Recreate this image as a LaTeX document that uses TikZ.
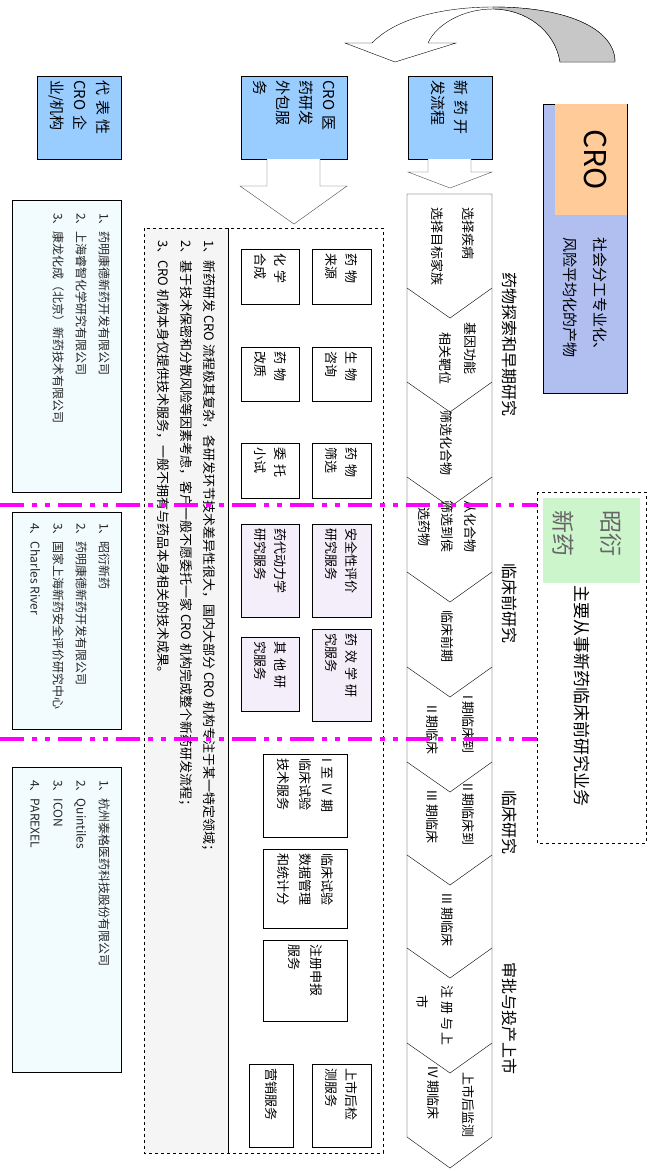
\documentclass[tikz,border=0pt]{standalone}
\usepackage{fontspec}
\setmainfont{Noto Sans CJK SC}
\usepackage{xcolor}
\usepackage{tikz}
\usetikzlibrary{calc,positioning}

\begin{document}
\begin{tikzpicture}[
    x=1pt,y=-1pt,
    line cap=butt,
    %styles
    vtext/.style={rotate=-90,anchor=west,inner sep=0pt,font=\fontsize{13}{15}\selectfont},
    headbox/.style={draw,rotate=-90,fill=headblue,align=left,inner sep=4pt,font=\fontsize{15}{23}\selectfont},
    servbox/.style={draw,rotate=-90,fill=white,align=left,inner sep=4pt,font=\fontsize{13}{20}\selectfont},
    listtext/.style={rotate=-90,anchor=north west,inner sep=0pt,align=left,text=black!85,font=\fontsize{12}{23}\selectfont},
    stage/.style={rotate=-90,anchor=west,inner sep=0pt,font=\fontsize{16}{18}\selectfont},
    blockarrow/.style={draw=black!70,fill=white,line join=miter},
    divide line/.style={fuchsia,line width=4pt,dash pattern=on 24pt off 8pt on 5pt off 8pt on 5pt off 8pt},
  ]
  %colors
  \definecolor{headblue}{RGB}{153,204,255}
  \definecolor{crob}{RGB}{176,190,240}
  \definecolor{croorange}{RGB}{255,204,153}
  \definecolor{lavender}{RGB}{244,238,250}
  \definecolor{listfill}{RGB}{242,251,253}
  \definecolor{zygreen}{RGB}{204,245,204}
  \definecolor{fuchsia}{RGB}{255,0,255}
  \useasboundingbox (0,0) rectangle (658,1171);

  % curved arrow
  \filldraw[fill=white,draw=black]
  (615,62) -- (560,62) .. controls (555,30) and (525,9) .. (493,9)
  .. controls (462,9) and (436,25) .. (428,43) -- (456,43) -- (395,62) -- (345,43) -- (372,43)
  .. controls (400,14) and (455,7) .. (493,7) .. controls (570,7) and (615,30) .. (615,62) -- cycle;
  \filldraw[fill=black!22,draw=black]
  (493,7) .. controls (570,7) and (615,30) .. (615,62) -- (560,62)
  .. controls (555,30) and (525,9) .. (493,9) -- cycle;

  % head boxes
  \node[headbox,text width=75,minimum height=84] (flow) at (450,117.5) {新\ 药\ 开\\发流程};
  \node[headbox,text width=75,minimum height=106] (outsrc) at (294,117.5) {CRO 医\\药研发\\外包服\\务};
  \node[headbox,text width=75,minimum height=84] (repr) at (79,117.5) {代\ 表\ 性\\CRO\ 企\\业/机构};

  \draw[blockarrow] (428,159) -- (428,172) -- (408,172) -- (450,188) -- (492,172) -- (471,172) -- (471,159);
  \draw[blockarrow] (267,159) -- (267,186) -- (240,186) -- (294,224) -- (347,186) -- (320,186) -- (320,159);

  % process column
  \draw[black] (407,194) -- (492,194) -- (492,1137) -- (450,1168) -- (407,1137) -- cycle;
  \foreach \y in {288,382,477,572,667,762,855,948,1043}
  \draw[black] (407,\y) -- (450,\y+30) -- (492,\y);

  \node[vtext] (s1a) at (468,207) {选择疾病};
  \node[vtext] (s1b) at (437,207) {选择目标家族};
  \node[vtext] (s2a) at (470,322) {基因功能};
  \node[vtext] (s2b) at (445,332) {相关靶位};
  \node[vtext] (s3a) at (446,410) {筛选化合物};
  \node[vtext] (s4a) at (470,500) {从化合物};
  \node[vtext] (s4b) at (447,500) {筛选到侯};
  \node[vtext] (s4c) at (424,507) {选药物};
  \node[vtext] (s5a) at (447,610) {临床前期};
  \node[vtext] (s6a) at (468,695) {I\ 期临床到};
  \node[vtext] (s6b) at (432,705) {II 期临床};
  \node[vtext] (s7a) at (468,783) {II\ 期临床到};
  \node[vtext] (s7b) at (432,790) {III 期临床};
  \node[vtext] (s8a) at (447,893) {III 期临床};
  \node[vtext] (s9a) at (447,985) {注\ 册\ 与\ 上};
  \node[vtext] (s9b) at (423,995) {市};
  \node[vtext] (s10a) at (468,1072) {上市后监测};
  \node[vtext] (s10b) at (433,1066) {IV 期临床};

  % stages
  \node[stage] (st1) at (510,272) {药物探索和早期研究};
  \node[stage] (st2) at (510,563) {临床前研究};
  \node[stage] (st3) at (510,790) {临床研究};
  \node[stage] (st4) at (510,962) {审批与投产上市};

  % CRO box
  \filldraw[fill=crob,draw=black] (543,104) rectangle (627,393);
  \fill[croorange] (555,104) rectangle (627,215);
  \node[rotate=-90,font=\fontsize{30}{32}\selectfont] (cro) at (595,160) {CRO};
  \node[rotate=-90,anchor=north west,inner sep=0pt,align=left,font=\fontsize{15}{30}\selectfont]
  (crotxt) at (607,237) {社会分工专业化、\\风险平均化的产物};

  % zhaoyan box
  \draw[dashed] (537,492) rectangle (646,843);
  \fill[zygreen] (543,498) rectangle (640,583);
  \node[rotate=-90,anchor=north west,inner sep=0pt,align=left,text=black!60,font=\fontsize{23}{48}\selectfont]
  (zy) at (622,510) {昭衍\\新药};
  \node[stage,font=\fontsize{17}{19}\selectfont] (zytxt) at (582,585) {主要从事新药临床前研究业务};

  % service area
  \fill[black!4] (144,228) rectangle (228,1153);
  \draw[dashed] (144,228) rectangle (383,1153);
  \draw (228,228) -- (228,1153);
  \node[rotate=-90,anchor=north west,inner sep=0pt,align=left,font=\fontsize{13}{23}\selectfont] (notes) at (216,240)
  {1、新药研发 CRO 流程极其复杂，各研发环节技术差异性很大，国内大部分 CRO 机构专注于某一特定领域；\\
    2、基于技术保密和分散风险等因素考虑，客户一般不愿委托一家 CRO 机构完成整个新药研发流程；\\
    3、CRO 机构本身仅提供技术服务，一般不拥有与药品本身相关的技术成果。};

  \node[servbox,text width=47,minimum height=59] (a1) at (341.5,276.5) {药\ 物\\来源};
  \node[servbox,text width=47,minimum height=58] (b1) at (270,276.5) {化\ 学\\合成};
  \node[servbox,text width=46,minimum height=59] (a2) at (341.5,374) {生\ 物\\咨询};
  \node[servbox,text width=46,minimum height=58] (b2) at (270,374) {药\ 物\\改质};
  \node[servbox,text width=47,minimum height=59] (a3) at (341.5,470.5) {药\ 物\\筛选};
  \node[servbox,text width=47,minimum height=58] (b3) at (270,470.5) {委\ 托\\小试};
  \node[servbox,fill=lavender,text width=85,minimum height=59] (a4) at (341.5,570.5) {安全性评价\\研究服务};
  \node[servbox,fill=lavender,text width=85,minimum height=58] (b4) at (270,570.5) {药代动力学\\研究服务};
  \node[servbox,fill=lavender,text width=84,minimum height=59] (a5) at (341.5,675) {药\ 效\ 学\ 研\\究服务};
  \node[servbox,fill=lavender,text width=66,minimum height=58] (b5) at (270,674) {其\ 他\ 研\\究服务};
  \node[servbox,text width=75,minimum height=84,font=\fontsize{13}{22}\selectfont] (c1) at (305,795.5) {I 至 IV\ 期\\临床试验\\技术服务};
  \node[servbox,text width=71,minimum height=84,font=\fontsize{13}{22}\selectfont] (c2) at (305,888.5) {临床试验\\数据管理\\和统计分};
  \node[servbox,text width=73,minimum height=84,font=\fontsize{13}{22}\selectfont] (c3) at (305,980.5) {注册申报\\服务};
  \node[servbox,text width=75,minimum height=59] (d1) at (341.5,1105.5) {上市后检\\测服务};
  \node[servbox,text width=75,minimum height=44] (d2) at (271,1105.5) {营销服务};

  % company lists
  \filldraw[fill=listfill,draw=black] (12,200) rectangle (121,492);
  \filldraw[fill=listfill,draw=black] (12,512) rectangle (121,729);
  \filldraw[fill=listfill,draw=black] (12,767) rectangle (121,1072);
  \node[listtext] (l1) at (110,213) {1、药明康德新药开发有限公司\\2、上海睿智化学研究有限公司\\3、康龙化成（北京）新药技术有限公司};
  \node[listtext] (l2) at (110,523) {1、昭衍新药\\2、药明康德新药开发有限公司\\3、国家上海新药安全评价研究中心\\4、Charles River};
  \node[listtext] (l3) at (110,780) {1、杭州泰格医药科技股份有限公司\\2、Quintiles\\3、ICON\\4、PAREXEL};

  % divide lines
  \draw[divide line] (0,505) -- (537,505);
  \draw[divide line] (0,739) -- (537,739);
\end{tikzpicture}
\end{document}
